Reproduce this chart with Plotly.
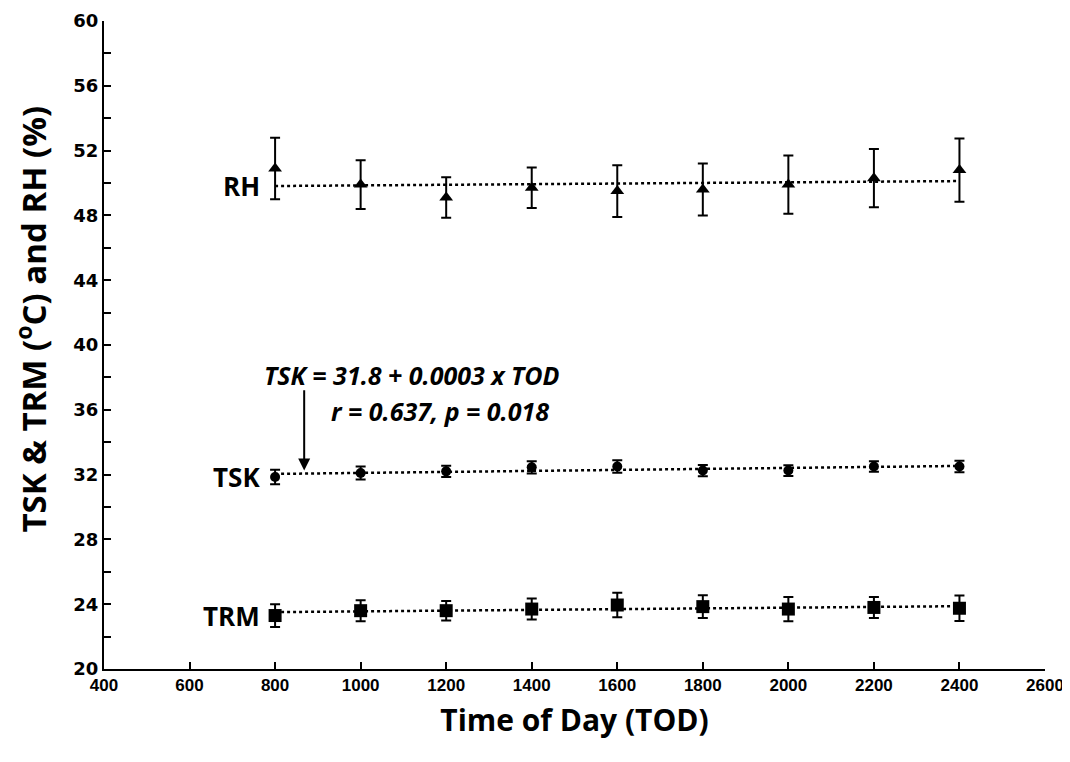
import numpy as np
import plotly.graph_objects as go

tod = [800, 1000, 1200, 1400, 1600, 1800, 2000, 2200, 2400]
rh = [50.9, 49.9, 49.1, 49.7, 49.5, 49.6, 49.9, 50.3, 50.8]
rh_err = [1.9, 1.5, 1.25, 1.25, 1.6, 1.6, 1.8, 1.8, 1.95]
tsk = [31.85, 32.1, 32.2, 32.45, 32.5, 32.25, 32.25, 32.5, 32.5]
tsk_err = [0.45, 0.4, 0.35, 0.38, 0.38, 0.35, 0.33, 0.32, 0.36]
trm = [23.3, 23.6, 23.6, 23.7, 23.95, 23.85, 23.7, 23.8, 23.75]
trm_err = [0.7, 0.65, 0.6, 0.65, 0.75, 0.7, 0.75, 0.65, 0.78]

x_ticks = list(range(400, 2601, 200))
y_ticks = list(range(20, 61, 4))

FONT = "Open Sans, Liberation Sans, DejaVu Sans"
TICKFONT = "DejaVu Sans"
XTICKFONT = "Liberation Sans, Arimo, DejaVu Sans"

fig = go.Figure()

series = [
    ("RH", rh, rh_err, "triangle-up", 12),
    ("TSK", tsk, tsk_err, "circle", 10),
    ("TRM", trm, trm_err, "square", 13),
]

xs = np.array(tod, dtype=float)
for name, vals, err, sym, size in series:
    coef = np.polyfit(xs, np.array(vals), 1)
    xl = np.array([tod[0], tod[-1]], dtype=float)
    fig.add_trace(go.Scatter(
        x=xl, y=np.polyval(coef, xl), mode="lines",
        line=dict(color="black", width=2.5, dash="dot"),
        showlegend=False, hoverinfo="skip"))
    fig.add_trace(go.Scatter(
        x=tod, y=vals, mode="markers", name=name,
        marker=dict(symbol=sym, size=size, color="black"),
        error_y=dict(type="data", array=err, visible=True,
                     color="black", thickness=2, width=5),
        showlegend=False))
    ylab = np.polyval(coef, 800) if name == "RH" else vals[0]
    fig.add_annotation(x=770, y=ylab, text=name, showarrow=False,
                       xanchor="right", yanchor="middle",
                       font=dict(family=FONT, size=26, color="black",
                                 weight="bold"))

fig.add_annotation(x=770, y=38.15, text="<i>TSK = 31.8 + 0.0003 x TOD</i>",
                   showarrow=False, xanchor="left", yanchor="middle",
                   font=dict(family=FONT, size=25, color="black", weight="bold"))
fig.add_annotation(x=926, y=35.9, text="<i>r = 0.637, p = 0.018</i>",
                   showarrow=False, xanchor="left", yanchor="middle",
                   font=dict(family=FONT, size=25, color="black", weight="bold"))
fig.add_annotation(x=868, y=32.25, ax=868, ay=37.3, axref="x", ayref="y",
                   xref="x", yref="y", text="", showarrow=True,
                   arrowhead=2, arrowsize=1.2, arrowwidth=2, arrowcolor="black")

# y-axis title drawn as rotated text
fig.add_annotation(xref="paper", yref="paper", x=-0.077, y=0.54,
                   text="TSK & TRM (<sup>o</sup>C) and RH (%)", textangle=-90,
                   showarrow=False, xanchor="center", yanchor="middle",
                   font=dict(family=FONT, size=33, color="black", weight="bold"))

fig.update_layout(
    width=1062, height=746,
    margin=dict(l=96, r=25, t=13, b=85, autoexpand=False),
    paper_bgcolor="white", plot_bgcolor="white",
    font=dict(family=FONT, color="black"),
    xaxis=dict(
        range=[400, 2600], tickmode="array", tickvals=x_ticks,
        ticktext=[str(v) for v in x_ticks], automargin=False,
        ticks="inside", ticklen=7, tickwidth=1.5, tickcolor="black",
        showline=True, linecolor="black", linewidth=2, showgrid=False,
        zeroline=False,
        tickfont=dict(family=XTICKFONT, size=17, color="black", weight="bold"),
        title=dict(text="Time of Day (TOD)", standoff=16,
                   font=dict(family=FONT, size=30, color="black", weight="bold")),
    ),
    yaxis=dict(
        range=[20, 60], tickmode="array", tickvals=y_ticks,
        ticktext=[str(v) for v in y_ticks], automargin=False,
        ticks="inside", ticklen=7, tickwidth=1.5, tickcolor="black",
        minor=dict(dtick=2, ticks="inside", ticklen=7, tickwidth=1.5,
                   tickcolor="black", showgrid=False),
        showline=True, linecolor="black", linewidth=2, showgrid=False,
        zeroline=False,
        tickfont=dict(family=TICKFONT, size=18, color="black", weight="bold"),
    ),
)

fig.write_html("out.html")
